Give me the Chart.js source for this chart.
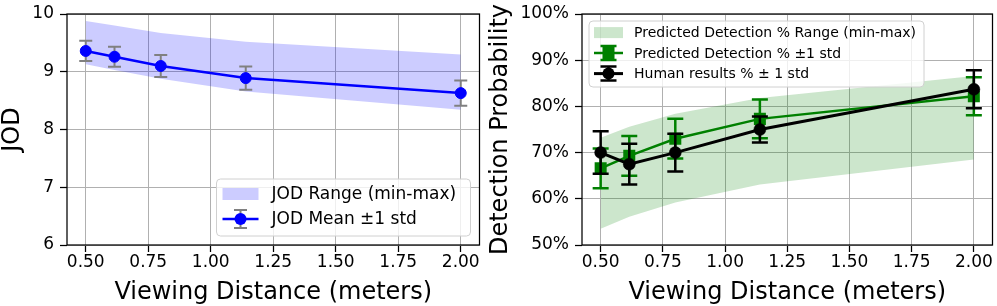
<!DOCTYPE html>
<html>
<head>
<meta charset="utf-8">
<script src="https://cdn.jsdelivr.net/npm/chart.js@4"></script>
<style>
  html, body { margin: 0; padding: 0; background: #fff; }
  #wrap { position: relative; width: 997px; height: 306px; overflow: hidden; }
  canvas { position: absolute; top: 0; }
</style>
</head>
<body>
<div id="wrap">
  <canvas id="jodChart" width="486" height="306" style="left:0"></canvas>
  <canvas id="detChart" width="515" height="306" style="left:486px"></canvas>
</div>
<script>
// viewing distances (meters)
const distances = [0.5, 0.615, 0.8, 1.14, 2.0];
const xTickValues = [0.5, 0.75, 1.0, 1.25, 1.5, 1.75, 2.0];
const jodTickValues = [6, 7, 8, 9, 10];
const detTickValues = [50, 60, 70, 80, 90, 100];

// left: JOD
const jodMean = [9.36, 9.26, 9.10, 8.89, 8.63];
const jodStd = [0.175, 0.175, 0.19, 0.20, 0.22];
const jodMax = [9.88, 9.80, 9.67, 9.52, 9.30];
const jodMin = [9.13, 9.03, 8.88, 8.66, 8.34];

// right: detection probability (%)
const predMean = [66.6, 69.3, 73.0, 77.3, 82.2];
const predStd = [4.3, 4.3, 4.3, 4.2, 4.1];
const predMax = [73.2, 75.6, 78.4, 81.8, 86.6];
const predMin = [53.5, 56.1, 59.2, 63.1, 68.5];
const humanMean = [70.0, 67.5, 70.0, 75.0, 83.7];
const humanStd = [4.6, 4.4, 4.1, 2.8, 4.1];

Chart.defaults.font.family = '"DejaVu Sans", sans-serif';
Chart.defaults.color = '#000';

const pts = (ys) => distances.map((d, i) => ({ x: d, y: ys[i] }));

// vertical error bars with caps, drawn under each dataset's line/markers
const errorBars = {
  id: 'errorBars',
  beforeDatasetDraw(chart, args) {
    const ds = chart.data.datasets[args.index];
    if (!ds.errors) return;
    const y = chart.scales.y;
    const ctx = chart.ctx;
    ctx.save();
    ctx.strokeStyle = ds.errorColor;
    ctx.lineWidth = ds.errorWidth;
    args.meta.data.forEach((p, i) => {
      const v = ds.data[i].y, e = ds.errors[i];
      const t = y.getPixelForValue(v + e), b = y.getPixelForValue(v - e);
      ctx.beginPath();
      ctx.moveTo(p.x, t); ctx.lineTo(p.x, b);
      ctx.moveTo(p.x - ds.capHalf, t); ctx.lineTo(p.x + ds.capHalf, t);
      ctx.moveTo(p.x - ds.capHalf, b); ctx.lineTo(p.x + ds.capHalf, b);
      ctx.stroke();
    });
    ctx.restore();
  }
};

function drawMarker(ctx, style, x, y, r, color) {
  ctx.fillStyle = color;
  ctx.beginPath();
  if (style === 'rect') {
    const s = Math.SQRT1_2 * r;
    ctx.rect(x - s, y - s, 2 * s, 2 * s);
  } else {
    ctx.arc(x, y, r, 0, Math.PI * 2);
  }
  ctx.fill();
}

// axes frame + matplotlib-like legend
function frameAndLegend(spec) {
  return {
    id: 'frameLegend',
    afterDraw(chart) {
      const ctx = chart.ctx, a = chart.chartArea;
      ctx.save();
      ctx.strokeStyle = '#000';
      ctx.lineWidth = 1.25;
      ctx.strokeRect(a.left, a.top, a.right - a.left, a.bottom - a.top);

      const bx = spec.anchor === 'br' ? a.right - spec.dx - spec.w : a.left + spec.dx;
      const by = spec.anchor === 'br' ? a.bottom - spec.dy - spec.h : a.top + spec.dy;
      ctx.fillStyle = 'rgba(255,255,255,0.8)';
      ctx.strokeStyle = '#d0d0d0';
      ctx.lineWidth = 1;
      ctx.beginPath();
      ctx.roundRect(bx, by, spec.w, spec.h, 4);
      ctx.fill();
      ctx.stroke();

      ctx.font = spec.fontSize + 'px "DejaVu Sans"';
      ctx.textBaseline = 'middle';
      ctx.textAlign = 'left';
      spec.rows.forEach((row, i) => {
        const cy = by + spec.rowY[i];
        const x0 = bx + spec.h0, x1 = bx + spec.h1, xm = (x0 + x1) / 2;
        if (row.type === 'band') {
          ctx.fillStyle = row.color;
          ctx.fillRect(x0, cy - spec.patchH / 2, x1 - x0, spec.patchH);
        } else {
          ctx.strokeStyle = row.errorColor;
          ctx.lineWidth = row.errorWidth;
          ctx.beginPath();
          ctx.moveTo(xm, cy - spec.errH); ctx.lineTo(xm, cy + spec.errH);
          ctx.moveTo(xm - row.capHalf, cy - spec.errH); ctx.lineTo(xm + row.capHalf, cy - spec.errH);
          ctx.moveTo(xm - row.capHalf, cy + spec.errH); ctx.lineTo(xm + row.capHalf, cy + spec.errH);
          ctx.stroke();
          ctx.strokeStyle = row.color;
          ctx.lineWidth = row.lineWidth;
          ctx.beginPath();
          ctx.moveTo(x0, cy); ctx.lineTo(x1, cy);
          ctx.stroke();
          drawMarker(ctx, row.marker, xm, cy, row.radius, row.color);
        }
        ctx.fillStyle = '#000';
        ctx.fillText(row.label, bx + spec.textX, cy + 1);
      });
      ctx.restore();
    }
  };
}

function makeOptions(yTicks, yFmt, yWidth, padRight, yTitle, yTitlePad, yMin, yMax) {
  const tickFont = { size: 17 };
  const grid = { color: '#b0b0b0', lineWidth: 1, tickColor: '#000', tickLength: 7, tickWidth: 1.25 };
  return {
    responsive: false,
    animation: false,
    layout: { padding: { top: 14, right: padRight, bottom: 0, left: 0 } },
    plugins: { legend: { display: false }, tooltip: { enabled: false } },
    elements: { line: { tension: 0 } },
    scales: {
      x: {
        type: 'linear', min: 0.425, max: 2.075,
        afterBuildTicks: s => { s.ticks = xTickValues.map(v => ({ value: v })); },
        afterFit: s => { s.height = 61; s.paddingLeft = 0; s.paddingRight = 0; },
        ticks: { font: tickFont, color: '#000', padding: 0, maxRotation: 0, autoSkip: false,
                 callback: v => v.toFixed(2) },
        grid: grid,
        border: { display: false },
        title: { display: true, text: 'Viewing Distance (meters)', color: '#000',
                 font: { size: 24, lineHeight: 1.1 }, padding: { top: 0, bottom: 0 } }
      },
      y: {
        type: 'linear', min: yMin, max: yMax,
        afterBuildTicks: s => { s.ticks = yTicks.map(v => ({ value: v })); },
        afterFit: s => { s.width = yWidth; s.paddingTop = 0; s.paddingBottom = 0; },
        ticks: { font: tickFont, color: '#000', padding: 6, autoSkip: false, callback: yFmt },
        grid: grid,
        border: { display: false },
        title: { display: true, text: yTitle, color: '#000',
                 font: { size: 24, lineHeight: 1.1 }, padding: { top: yTitlePad, bottom: 0 } }
      }
    }
  };
}

const bandBlue = 'rgba(0,0,255,0.2)';
const bandGreen = 'rgba(0,128,0,0.2)';

new Chart(document.getElementById('jodChart'), {
  type: 'line',
  data: {
    datasets: [
      { label: 'JOD Range (min-max)', data: pts(jodMax), fill: '+1', backgroundColor: bandBlue,
        borderColor: 'rgba(0,0,0,0)', borderWidth: 1, pointRadius: 0, order: 3 },
      { label: 'min', data: pts(jodMin), fill: false, borderColor: 'rgba(0,0,0,0)',
        borderWidth: 1, pointRadius: 0, order: 2 },
      { label: 'JOD Mean ±1 std', data: pts(jodMean), borderColor: '#0000ff', borderWidth: 2.5,
        pointRadius: 5.5, pointBackgroundColor: '#0000ff', pointBorderColor: '#0000ff', pointBorderWidth: 1,
        fill: false, order: 1,
        errors: jodStd, errorColor: '#808080', errorWidth: 2, capHalf: 6.5 }
    ]
  },
  options: makeOptions(jodTickValues, v => String(v), 67, 6, 'JOD', 0, 6, 10),
  plugins: [errorBars, frameAndLegend({
    anchor: 'br', dx: 9, dy: 9, w: 254, h: 57, fontSize: 17,
    rowY: [15, 40], h0: 6, h1: 42, textX: 55, patchH: 12, errH: 9,
    rows: [
      { type: 'band', color: bandBlue, label: 'JOD Range (min-max)' },
      { type: 'err', color: '#0000ff', lineWidth: 2.5, marker: 'circle', radius: 6,
        errorColor: '#808080', errorWidth: 2, capHalf: 6.5, label: 'JOD Mean ±1 std' }
    ]
  })]
});

new Chart(document.getElementById('detChart'), {
  type: 'line',
  data: {
    datasets: [
      { label: 'Predicted Detection % Range (min-max)', data: pts(predMax), fill: '+1', backgroundColor: bandGreen,
        borderColor: 'rgba(0,0,0,0)', borderWidth: 1, pointRadius: 0, order: 4 },
      { label: 'min', data: pts(predMin), fill: false, borderColor: 'rgba(0,0,0,0)',
        borderWidth: 1, pointRadius: 0, order: 3 },
      { label: 'Predicted Detection % ±1 std', data: pts(predMean), borderColor: '#008000', borderWidth: 2.5,
        pointStyle: 'rect', pointRadius: 8.5, pointBackgroundColor: '#008000', pointBorderColor: '#008000',
        pointBorderWidth: 0, fill: false, order: 2,
        errors: predStd, errorColor: '#008000', errorWidth: 2.5, capHalf: 8 },
      { label: 'Human results % ± 1 std', data: pts(humanMean), borderColor: '#000000', borderWidth: 3,
        pointRadius: 6, pointBackgroundColor: '#000000', pointBorderColor: '#000000', pointBorderWidth: 0.5,
        fill: false, order: 1,
        errors: humanStd, errorColor: '#000000', errorWidth: 2.5, capHalf: 8 }
    ]
  },
  options: makeOptions(detTickValues, v => v + '%', 96, 1, 'Detection Probability', 2, 50, 100),
  plugins: [errorBars, frameAndLegend({
    anchor: 'tl', dx: 7, dy: 7, w: 335, h: 66, fontSize: 14,
    rowY: [11.6, 32, 52.6], h0: 5, h1: 34, textX: 45, patchH: 11, errH: 7,
    rows: [
      { type: 'band', color: bandGreen, label: 'Predicted Detection % Range (min-max)' },
      { type: 'err', color: '#008000', lineWidth: 2.5, marker: 'rect', radius: 8.5,
        errorColor: '#008000', errorWidth: 2.5, capHalf: 8, label: 'Predicted Detection % ±1 std' },
      { type: 'err', color: '#000000', lineWidth: 3, marker: 'circle', radius: 6,
        errorColor: '#000000', errorWidth: 2.5, capHalf: 8, label: 'Human results % ± 1 std' }
    ]
  })]
});
</script>
</body>
</html>
